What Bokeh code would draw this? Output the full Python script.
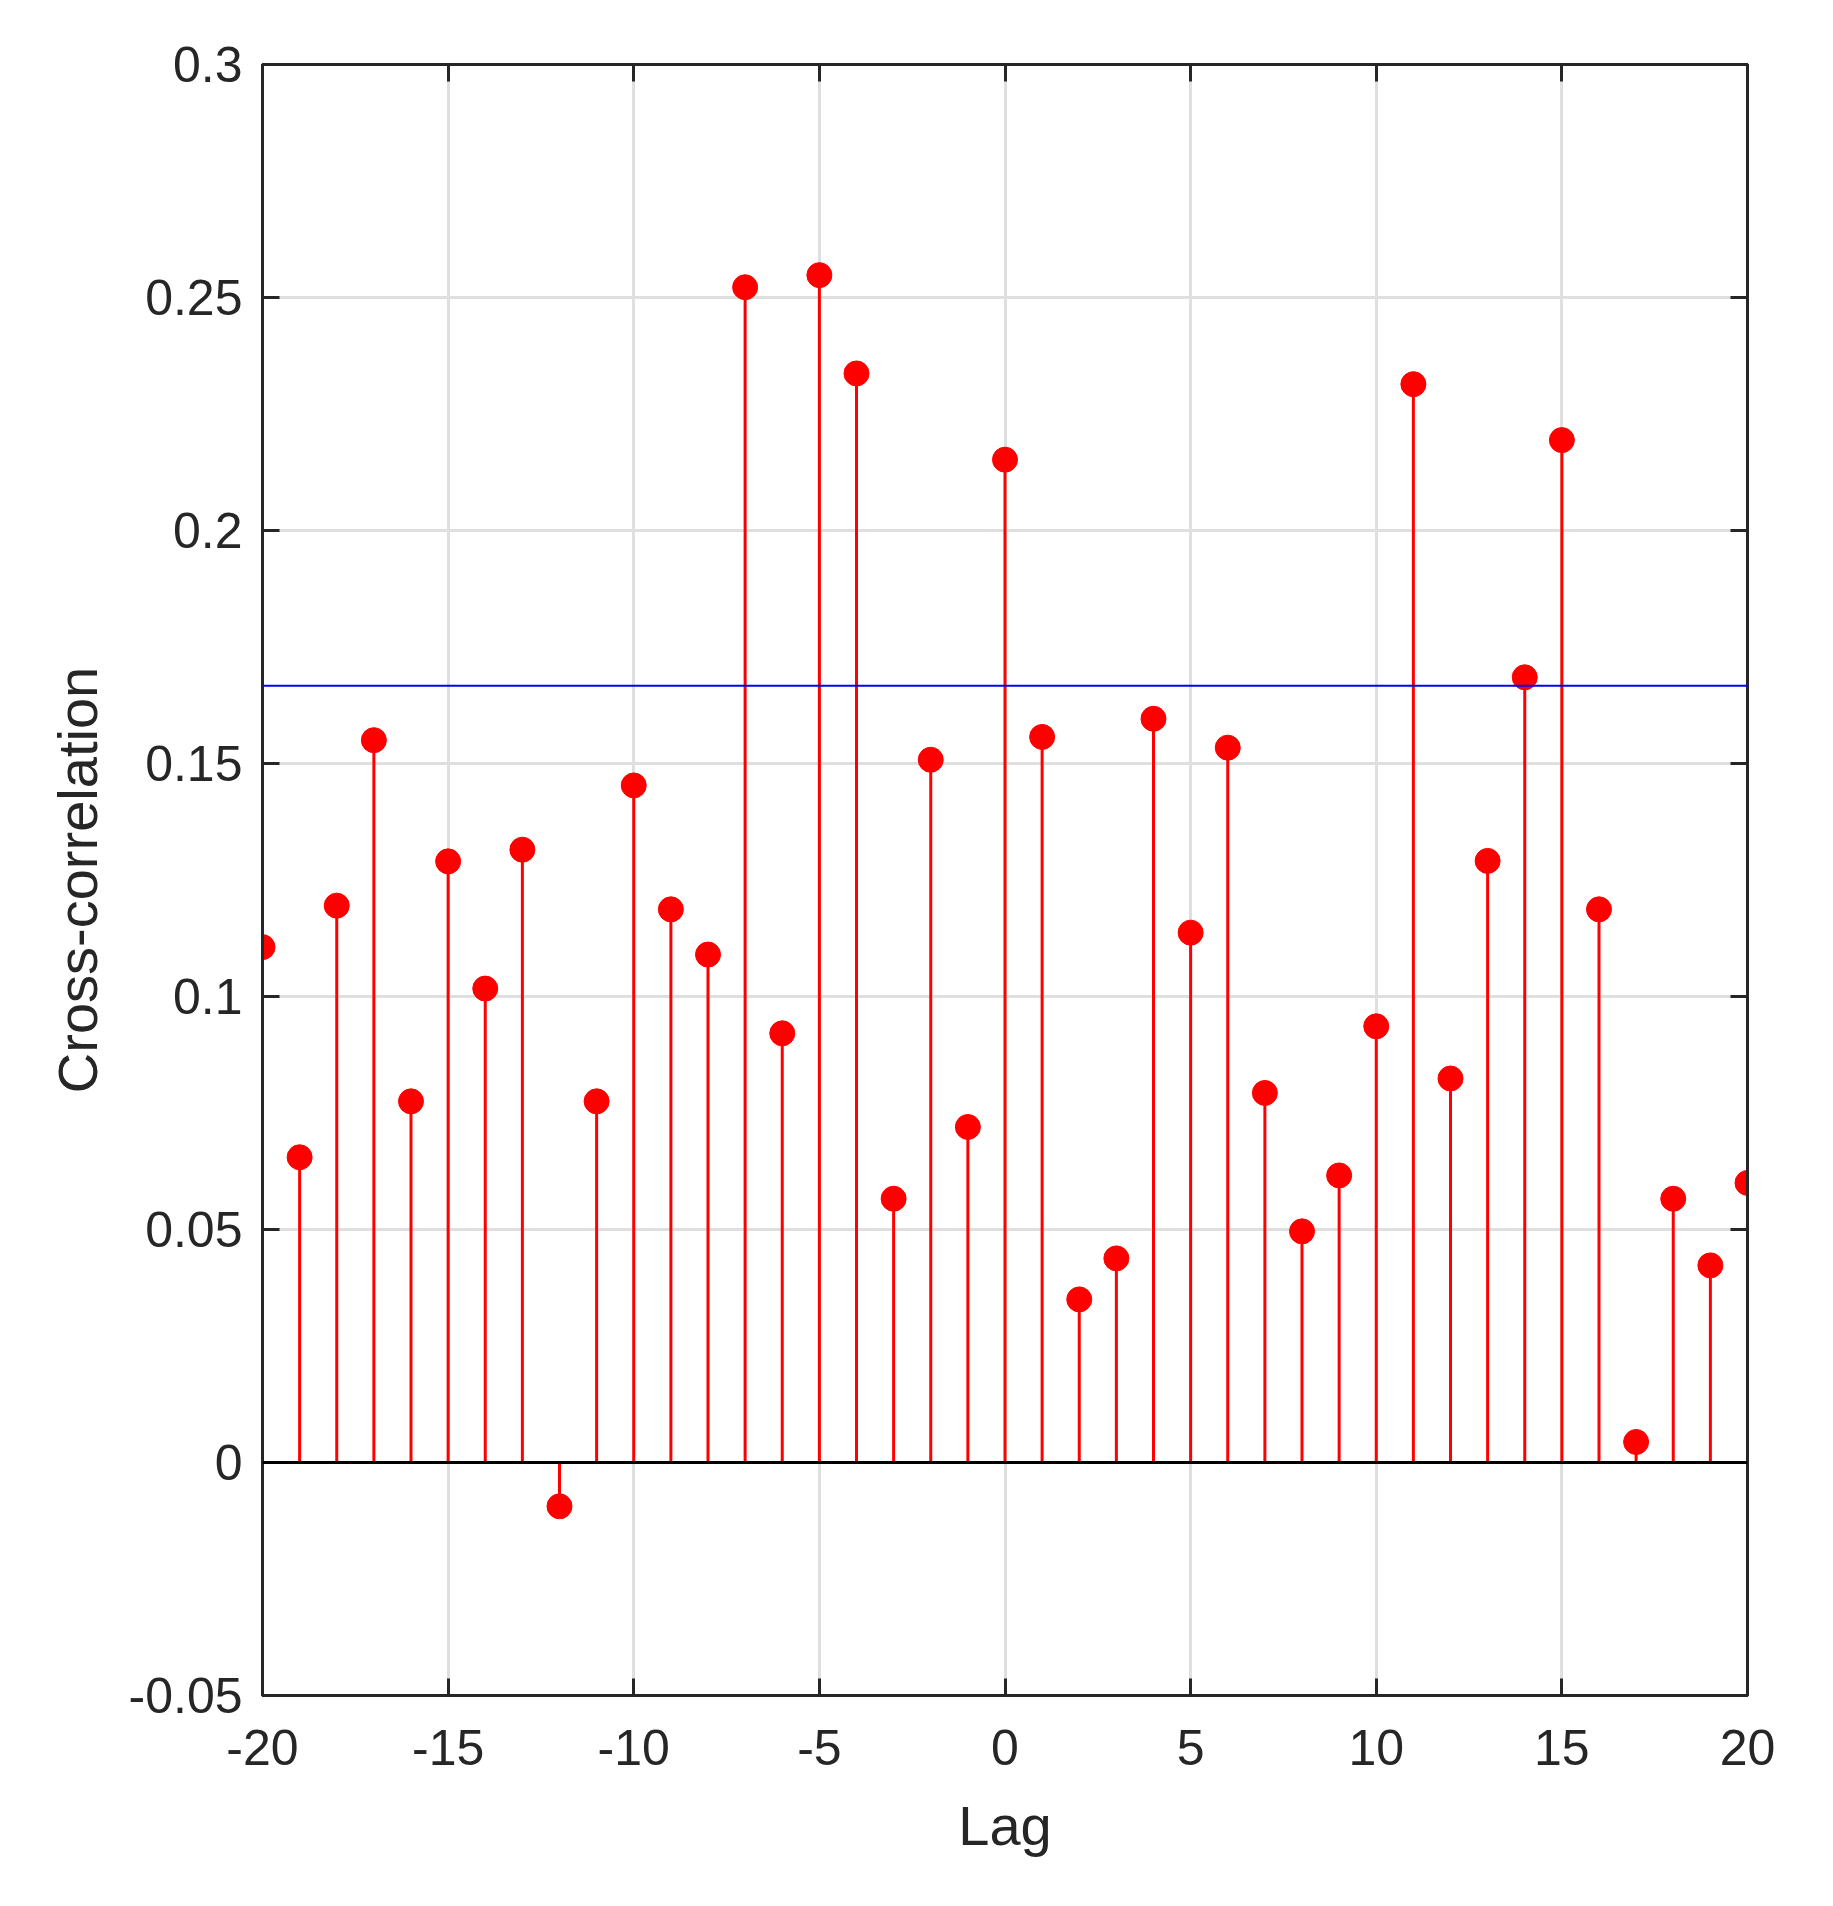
from bokeh.plotting import figure
from bokeh.models import LinearAxis, FixedTicker, Span, Range1d
from bokeh.embed import file_html
from bokeh.resources import INLINE

# lag values and the cross-correlation
lags = list(range(-20, 21))
xcorr = [0.1106, 0.0655, 0.1195, 0.1550, 0.0775, 0.1290, 0.1017, 0.1315,
         -0.0094, 0.0775, 0.1453, 0.1187, 0.1090, 0.2522, 0.0921, 0.2548,
         0.2337, 0.0566, 0.1508, 0.0720, 0.2152, 0.1557, 0.0350, 0.0438,
         0.1596, 0.1137, 0.1534, 0.0793, 0.0496, 0.0616, 0.0936, 0.2314,
         0.0824, 0.1291, 0.1685, 0.2194, 0.1187, 0.0044, 0.0566, 0.0423,
         0.0600]
threshold = 0.1667

x_ticks = [-20, -15, -10, -5, 0, 5, 10, 15, 20]
y_ticks = [-0.05, 0.0, 0.05, 0.1, 0.15, 0.2, 0.25, 0.3]

ink = "#262626"
font = "Liberation Sans"

p = figure(width=1817, height=1890, output_backend="svg", toolbar_location=None,
           x_range=Range1d(-20, 20), y_range=Range1d(-0.05, 0.3),
           x_axis_location=None, y_axis_location=None,
           min_border_left=262, min_border_right=70,
           min_border_top=64, min_border_bottom=195,
           background_fill_color="white", border_fill_color="white")
p.outline_line_color = ink
p.outline_line_width = 3

xax = LinearAxis(axis_label="Lag", ticker=FixedTicker(ticks=x_ticks),
                 major_label_overrides={t: f"{t:g}" for t in x_ticks})
yax = LinearAxis(axis_label="Cross-correlation", ticker=FixedTicker(ticks=y_ticks),
                 major_label_overrides={t: f"{t:g}" for t in y_ticks})
# mirrored axes on top/right carry only inward ticks
top = LinearAxis(ticker=FixedTicker(ticks=x_ticks),
                 major_label_overrides={t: "" for t in x_ticks})
right = LinearAxis(ticker=FixedTicker(ticks=y_ticks),
                   major_label_overrides={t: "" for t in y_ticks})
p.add_layout(xax, "below")
p.add_layout(yax, "left")
p.add_layout(top, "above")
p.add_layout(right, "right")

for ax in [xax, yax, top, right]:
    ax.axis_line_color = ink
    ax.axis_line_width = 3
    ax.major_tick_line_color = ink
    ax.major_tick_line_width = 3
    ax.major_tick_in = 17
    ax.major_tick_out = 0
    ax.minor_tick_line_color = None
    ax.major_label_text_font = font
    ax.major_label_text_font_size = "50px"
    ax.major_label_text_color = ink
    ax.axis_label_text_font = font
    ax.axis_label_text_font_size = "56px"
    ax.axis_label_text_font_style = "normal"
    ax.axis_label_text_color = ink

xax.major_label_standoff = 34
xax.axis_label_standoff = 26
yax.major_label_standoff = 20
yax.axis_label_standoff = 17

p.xgrid.ticker = FixedTicker(ticks=x_ticks)
p.ygrid.ticker = FixedTicker(ticks=y_ticks)
p.grid.grid_line_color = "#dfdfdf"
p.grid.grid_line_width = 3

p.segment(x0=lags, y0=[0] * len(lags), x1=lags, y1=xcorr,
          line_color="red", line_width=3)
p.add_layout(Span(location=0, dimension="width", line_color="black", line_width=3))
p.add_layout(Span(location=threshold, dimension="width", line_color="blue", line_width=2))
p.scatter(lags, xcorr, size=25, fill_color="red", line_color="red")

open("out.html", "w").write(file_html(p, INLINE))
